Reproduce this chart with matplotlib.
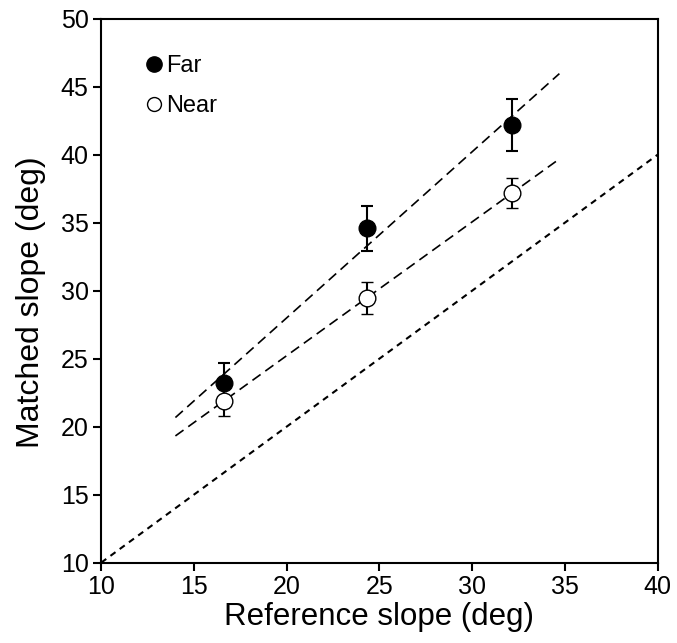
import numpy as np
import matplotlib.pyplot as plt

plt.rcParams['font.family'] = ['Liberation Sans', 'DejaVu Sans']

# reference slopes (deg)
ref_slope = [16.6, 24.35, 32.15]
# matched slopes and error bars (deg)
far_match = [23.2, 34.6, 42.2]
far_err = [1.5, 1.65, 1.9]
near_match = [21.9, 29.45, 37.2]
near_err = [1.1, 1.2, 1.1]

fig = plt.figure(figsize=(6.77, 6.43), dpi=100)
ax = fig.add_axes([0.1495, 0.125, 0.822, 0.846])

# regression lines through each condition
fit_x = np.array([14.0, 34.7])
for y in (far_match, near_match):
    k, b = np.polyfit(ref_slope, y, 1)
    ax.plot(fit_x, k * fit_x + b, color='black', lw=1.2, dashes=(6, 3.5), zorder=1)

# veridical line
ax.plot([10, 40], [10, 40], color='black', lw=1.5, dashes=(3, 2.5), zorder=1)

ax.errorbar(ref_slope, far_match, yerr=far_err, fmt='o', color='black', mfc='black',
            ms=12, capsize=4, elinewidth=1.5, capthick=1.5, zorder=3)
ax.errorbar(ref_slope, near_match, yerr=near_err, fmt='o', color='black', mfc='white',
            mew=1.0, ms=12, capsize=4, elinewidth=1.5, capthick=1.5, zorder=3)

# legend
ax.plot([], [], 'o', color='black', ms=11, label='Far')
ax.plot([], [], 'o', color='black', mfc='white', mew=1.0, ms=10, label='Near')
h, l = ax.get_legend_handles_labels()
ax.legend(h[-2:], l[-2:], loc='upper left', bbox_to_anchor=(0.065, 0.95), frameon=False,
          fontsize=17, handlelength=0.6, handletextpad=0.2, labelspacing=0.75, borderaxespad=0)

ax.set_xlim(10, 40)
ax.set_ylim(10, 50)
ax.set_xticks(np.arange(10, 41, 5))
ax.set_yticks(np.arange(10, 51, 5))
ax.tick_params(direction='out', length=6, width=1.5, labelsize=18, pad=3)
for s in ax.spines.values():
    s.set_linewidth(1.5)
ax.set_xlabel('Reference slope (deg)', fontsize=22.5, labelpad=2)
ax.set_ylabel('Matched slope (deg)', fontsize=23)
ax.yaxis.set_label_coords(-0.1, 0.479)

fig.savefig('out.png', dpi=100)
